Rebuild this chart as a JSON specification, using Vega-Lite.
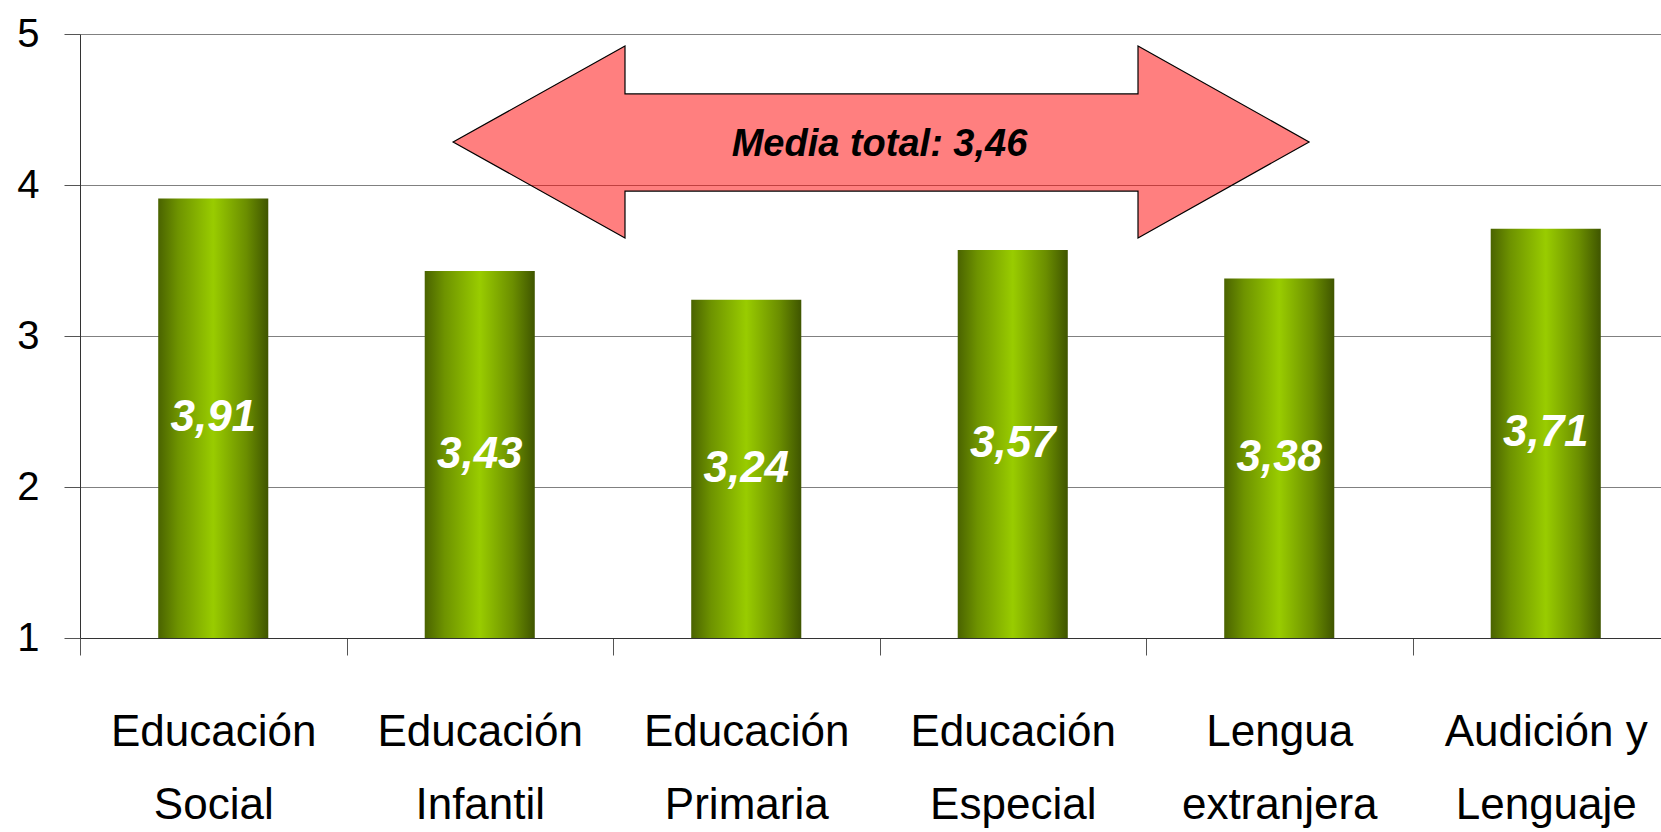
{
  "$schema": "https://vega.github.io/schema/vega-lite/v6.json",
  "width": 1581,
  "height": 604,
  "autosize": {"type": "none"},
  "padding": {"left": 80, "top": 34, "right": 0, "bottom": 194},
  "background": "white",
  "config": {
    "view": {"stroke": null},
    "locale": {"number": {"decimal": ",", "thousands": ".", "grouping": [3], "currency": ["", " €"]}}
  },
  "datasets": {
    "bars": [
      {"titulacion": "Educación Social", "media": 3.91},
      {"titulacion": "Educación Infantil", "media": 3.43},
      {"titulacion": "Educación Primaria", "media": 3.24},
      {"titulacion": "Educación Especial", "media": 3.57},
      {"titulacion": "Lengua extranjera", "media": 3.38},
      {"titulacion": "Audición y Lenguaje", "media": 3.71}
    ],
    "arrow": [
      {"x": 1.4, "top": 4.285, "bottom": 4.285},
      {"x": 2.045, "top": 4.92, "bottom": 3.649},
      {"x": 2.045, "top": 4.603, "bottom": 3.96},
      {"x": 3.97, "top": 4.603, "bottom": 3.96},
      {"x": 3.97, "top": 4.92, "bottom": 3.649},
      {"x": 4.612, "top": 4.285, "bottom": 4.285}
    ],
    "nota": [{"x": 3.0, "y": 4.265, "texto": "Media total: 3,46"}]
  },
  "layer": [
    {
      "data": {"name": "bars"},
      "mark": {
        "type": "bar",
        "width": {"band": 0.413},
        "color": {
          "gradient": "linear", "x1": 0, "y1": 0, "x2": 1, "y2": 0,
          "stops": [
            {"offset": 0, "color": "#4a6300"},
            {"offset": 0.18, "color": "#6e9300"},
            {"offset": 0.5, "color": "#99cc00"},
            {"offset": 0.8, "color": "#6b8e00"},
            {"offset": 1, "color": "#3f5500"}
          ]
        }
      },
      "encoding": {
        "x": {
          "field": "titulacion", "type": "nominal", "sort": null,
          "scale": {"range": [0, 1599], "paddingInner": 0, "paddingOuter": 0},
          "axis": {
            "title": null, "tickBand": "extent", "tickSize": 17, "tickColor": "#555", "domainColor": "#333",
            "labelFont": "Liberation Sans", "labelFontSize": 44, "labelColor": "black", "labelLimit": 0,
            "labelPadding": 55, "labelLineHeight": 73, "labelBaseline": "top", "labelAngle": 0,
            "labelOverlap": false, "labelBound": false, "labelFlush": false, "grid": false,
            "labelExpr": "datum.label == 'Audición y Lenguaje' ? ['Audición y', 'Lenguaje'] : split(datum.label, ' ')"
          }
        },
        "y": {
          "field": "media", "type": "quantitative",
          "scale": {"domain": [1, 5], "zero": false, "nice": false},
          "axis": {
            "title": null, "values": [1, 2, 3, 4, 5], "grid": true, "gridColor": "#808080", "gridWidth": 1,
            "tickSize": 16, "tickColor": "#555", "domainColor": "#333",
            "labelFont": "Liberation Sans", "labelFontSize": 40, "labelPadding": 25, "labelColor": "black"
          }
        },
        "y2": {"datum": 1}
      }
    },
    {
      "data": {"name": "bars"},
      "mark": {"type": "text", "font": "Liberation Sans", "fontSize": 44, "fontWeight": "bold", "fontStyle": "italic", "color": "white", "baseline": "middle", "align": "center"},
      "encoding": {
        "x": {"field": "titulacion", "type": "nominal", "sort": null, "scale": {"range": [0, 1599], "paddingInner": 0, "paddingOuter": 0}, "axis": null},
        "y": {"field": "media", "type": "quantitative", "scale": {"domain": [1, 9], "zero": false, "nice": false}, "axis": null},
        "text": {"field": "media", "type": "quantitative", "format": ".2f"}
      }
    },
    {
      "data": {"name": "arrow"},
      "mark": {"type": "area", "color": "#ff0000", "fillOpacity": 0.5, "stroke": "black", "strokeWidth": 1.2, "interpolate": "linear"},
      "encoding": {
        "x": {"field": "x", "type": "quantitative", "scale": {"domain": [0, 6], "range": [0, 1599], "nice": false, "zero": false}, "axis": null},
        "y": {"field": "top", "type": "quantitative", "scale": {"domain": [1, 5], "zero": false, "nice": false}, "axis": null},
        "y2": {"field": "bottom"}
      }
    },
    {
      "data": {"name": "nota"},
      "mark": {"type": "text", "font": "Liberation Sans", "fontSize": 38, "fontWeight": "bold", "fontStyle": "italic", "color": "black", "baseline": "middle", "align": "center"},
      "encoding": {
        "x": {"field": "x", "type": "quantitative", "scale": {"domain": [0, 6], "range": [0, 1599], "nice": false, "zero": false}, "axis": null},
        "y": {"field": "y", "type": "quantitative", "scale": {"domain": [1, 5], "zero": false, "nice": false}, "axis": null},
        "text": {"field": "texto"}
      }
    }
  ],
  "resolve": {"scale": {"x": "independent", "y": "independent"}}
}
